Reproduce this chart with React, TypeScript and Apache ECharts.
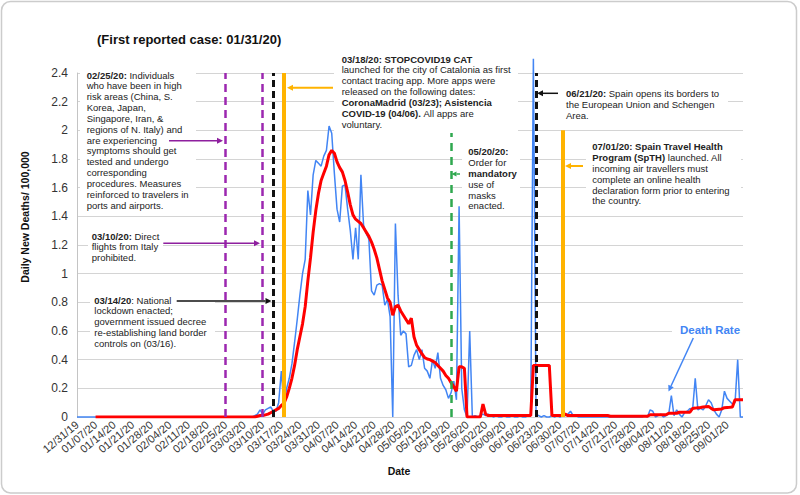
import React, { useEffect, useRef } from "react";
import * as echarts from "echarts";

// ---------- DATA ----------
const START_YEAR = 2019, START_MONTH = 11, START_DAY = 31, DAY_COUNT = 252;
const categories: string[] = [];
for (let i = 0; i < DAY_COUNT; i++) {
  const d = new Date(START_YEAR, START_MONTH, START_DAY + i);
  const mm = String(d.getMonth() + 1).padStart(2, "0");
  const dd = String(d.getDate()).padStart(2, "0");
  const yy = String(d.getFullYear()).slice(2);
  categories.push(`${mm}/${dd}/${yy}`);
}

// Daily new deaths per 100,000 (blue)
const dailyDeaths: number[] = [
  // 0-9
  0, 0, 0, 0, 0, 0, 0, 0, 0, 0,
  // 10-19
  0, 0, 0, 0, 0, 0, 0, 0, 0, 0,
  // 20-29
  0, 0, 0, 0, 0, 0, 0, 0, 0, 0,
  // 30-39
  0, 0, 0, 0, 0, 0, 0, 0, 0, 0,
  // 40-49
  0, 0, 0, 0, 0, 0, 0, 0, 0, 0,
  // 50-59
  0, 0, 0, 0, 0, 0, 0, 0, 0, 0,
  // 60-69
  0, 0, 0, 0, 0, 0, 0, 0.01, 0.02, 0.05,
  // 70-79
  0.02, 0.05, 0.06, 0.07, 0.04, 0.04, 0.1, 0.32, 0.08, 0.2,
  // 80-89
  0.27, 0.37, 0.52, 0.68, 0.85, 1.0, 1.1, 1.58, 1.41, 1.69,
  // 90-99
  1.79, 1.77, 1.75, 1.82, 1.86, 2.03, 1.98, 1.7, 1.45, 1.36,
  // 100-109
  1.61, 1.62, 1.45, 1.3, 1.1, 1.32, 1.1, 1.69, 1.34, 1.28,
  // 110-119
  1.24, 0.88, 0.85, 0.92, 0.93, 0.92, 0.78, 0.82, 0.7, 0.0,
  // 120-129
  1.35, 0.85, 0.57, 0.6, 0.58, 0.35, 0.36, 0.43, 0.47, 0.4,
  // 130-139
  0.47, 0.34, 0.32, 0.27, 0.4, 0.34, 0.45, 0.27, 0.22, 0.19,
  // 140-149
  0.13, 0.17, 0.25, 0.12, 1.47, 0.2, 0.05, 0.0, 0.6, 0.0,
  // 150-159
  0.01, 0, 0.01, 0.02, 0.01, 0.02, 0.01, 0, 0.01, 0,
  // 160-169
  0, 0.01, 0, 0, 0.01, 0, 0, 0.01, 0, 0,
  // 170-179
  0.01, 0.02, 2.5, 0.02, 0.01, 0, 0.01, 0, 0, 0.01,
  // 180-189
  0, 0.01, 0, 0.01, 0.01, 0.02, 0.04, 0.01, 0.01, 0,
  // 190-199
  0, 0, 0, 0, 0, 0, 0, 0, 0, 0,
  // 200-209
  0, 0, 0, 0, 0, 0, 0, 0, 0, 0,
  // 210-219
  0, 0, 0, 0, 0.01, 0, 0.05, 0.04, 0, 0.01,
  // 220-229
  0.02, 0, 0.01, 0.02, 0.15, 0.01, 0.05, 0.02, 0, 0.03,
  // 230-239
  0.04, 0.06, 0.05, 0.27, 0.05, 0.06, 0.05, 0.08, 0.12, 0.1,
  // 240-249
  0.05, 0.02, 0, 0.05, 0.18, 0.13, 0.11, 0.09, 0.1, 0.4,
  // 250-251
  0, 0,
];

// Rolling average (red)
const rollingAvg: (number | null)[] = [
  // 0-9
  null, null, null, null, null, null, null, 0, 0, 0,
  // 10-19
  0, 0, 0, 0, 0, 0, 0, 0, 0, 0,
  // 20-29
  0, 0, 0, 0, 0, 0, 0, 0, 0, 0,
  // 30-39
  0, 0, 0, 0, 0, 0, 0, 0, 0, 0,
  // 40-49
  0, 0, 0, 0, 0, 0, 0, 0, 0, 0,
  // 50-59
  0, 0, 0, 0, 0, 0, 0, 0, 0, 0,
  // 60-69
  0, 0, 0, 0, 0, 0, 0, 0, 0.005, 0.01,
  // 70-79
  0.01, 0.015, 0.02, 0.03, 0.04, 0.05, 0.06, 0.08, 0.095, 0.14,
  // 80-89
  0.2, 0.27, 0.36, 0.47, 0.56, 0.65, 0.77, 0.95, 1.11, 1.29,
  // 90-99
  1.44, 1.56, 1.65, 1.7, 1.75, 1.83, 1.86, 1.84, 1.78, 1.74,
  // 100-109
  1.71, 1.65, 1.57, 1.48, 1.41, 1.38, 1.365, 1.35, 1.32, 1.29,
  // 110-119
  1.26, 1.22, 1.17, 1.11, 1.03, 0.95, 0.89, 0.83, 0.8, 0.71,
  // 120-129
  0.77, 0.78, 0.74, 0.71, 0.68, 0.65, 0.69, 0.56, 0.5, 0.47,
  // 130-139
  0.44, 0.415, 0.405, 0.4, 0.39, 0.38, 0.36, 0.34, 0.32, 0.29,
  // 140-149
  0.27, 0.24, 0.21, 0.18, 0.35, 0.35, 0.34, 0, 0, 0,
  // 150-159
  0, 0, 0, 0.09, 0.02, 0.01, 0.01, 0.01, 0.01, 0.01,
  // 160-169
  0.01, 0.01, 0.01, 0.01, 0.01, 0.01, 0.01, 0.01, 0.01, 0.01,
  // 170-179
  0.01, 0.01, 0.36, 0.36, 0.36, 0.36, 0.36, 0.36, 0.36, 0.01,
  // 180-189
  0.01, 0.01, 0.01, 0.01, 0.02, 0.01, 0.01, 0.01, 0.01, 0.01,
  // 190-199
  0.01, 0.01, 0.01, 0.01, 0.01, 0.01, 0.01, 0.01, 0.01, 0.01,
  // 200-209
  0.01, 0.005, 0.005, 0.005, 0.005, 0.005, 0.005, 0.005, 0.005, 0.005,
  // 210-219
  0.005, 0.005, 0.005, 0.005, 0.005, 0.005, 0.016, 0.016, 0.016, 0.016,
  // 220-229
  0.016, 0.016, 0.016, 0.026, 0.026, 0.026, 0.026, 0.033, 0.033, 0.033,
  // 230-239
  0.033, 0.033, 0.06, 0.062, 0.065, 0.067, 0.07, 0.072, 0.074, 0.06,
  // 240-249
  0.05, 0.052, 0.054, 0.056, 0.065, 0.067, 0.068, 0.07, 0.12, 0.12,
  // 250-251
  0.12, 0.12,
];

// Event lines: date, top value of the line
const purpleEvents: string[] = ["02/25/20", "03/10/20"];
const blackEvents: string[] = ["03/14/20", "06/21/20"];
const orangeEvents: [string, number][] = [["03/18/20", 2.4], ["07/01/20", 2.0]];
const greenEvents: [string, number][] = [["05/20/20", 2.0]];

const Y_MIN = 0, Y_MAX = 2.4, Y_STEP = 0.2;

// ---------- STYLE ----------
const FONT = "Liberation Sans, Arial, Helvetica, sans-serif";
const TXT = "#222";
const PURPLE = "#9c27b0";
const ORANGE = "#ffb300";
const GREEN = "#2fa84f";
const BLUE = "#4285f4";
const RED = "#ff0000";

const LH = 10.85;
const rich = {
  n: { fontSize: 9.5, fontFamily: FONT, fill: TXT, lineHeight: LH },
  b: { fontSize: 9.5, fontFamily: FONT, fill: TXT, lineHeight: LH, fontWeight: "bold" },
};

function arrow(x1: number, y1: number, x2: number, y2: number, color: string, w = 1.5, head = 6) {
  const ang = Math.atan2(y2 - y1, x2 - x1);
  const bx = x2 - head * Math.cos(ang);
  const by = y2 - head * Math.sin(ang);
  const px = -Math.sin(ang) * head * 0.5;
  const py = Math.cos(ang) * head * 0.5;
  return [
    { type: "line", z: 30, silent: true, shape: { x1, y1, x2: bx, y2: by }, style: { stroke: color, lineWidth: w } },
    { type: "polygon", z: 30, silent: true, shape: { points: [[x2, y2], [bx + px, by + py], [bx - px, by - py]] }, style: { fill: color } },
  ];
}
function box(x: number, y: number, w: number, h: number) {
  return { type: "rect", z: 20, silent: true, shape: { x, y, width: w, height: h }, style: { fill: "#ffffff" } };
}
function note(x: number, yTop: number, text: string) {
  return {
    type: "text", z: 25, silent: true, x, y: yTop,
    style: { text, rich, fontSize: 9.5, fontFamily: FONT, fill: TXT, lineHeight: LH, align: "left", verticalAlign: "top" },
  };
}

export default function App() {
  const ref = useRef<HTMLDivElement>(null);
  useEffect(() => {
    if (!ref.current) return;
    const chart = echarts.init(ref.current, undefined, { renderer: "svg" });

    const markData: any[] = [];
    purpleEvents.forEach((d) =>
      markData.push({ xAxis: d, lineStyle: { color: PURPLE, width: 2.5, type: [8, 5] } })
    );
    blackEvents.forEach((d) =>
      markData.push({ xAxis: d, lineStyle: { color: "#111111", width: 3, type: [7, 4] } })
    );
    orangeEvents.forEach(([d, top]) =>
      markData.push([
        { coord: [d, 0], lineStyle: { color: ORANGE, width: 4, type: "solid" } },
        { coord: [d, top] },
      ])
    );
    greenEvents.forEach(([d, top]) =>
      markData.push([
        { coord: [d, 0], lineStyle: { color: GREEN, width: 2.5, type: [8, 6] } },
        { coord: [d, top] },
      ])
    );

    const graphic: any[] = [
      // outer frame
      { type: "rect", z: 1, silent: true, shape: { x: 1.5, y: 1.5, width: 795, height: 491.5, r: 9 }, style: { fill: "none", stroke: "#cccccc", lineWidth: 1.5 } },
      // title
      { type: "text", z: 25, x: 97, y: 39, style: { text: "(First reported case: 01/31/20)", fontSize: 13, fontWeight: "bold", fontFamily: FONT, fill: "#111", verticalAlign: "middle" } },
      // y axis name
      { type: "text", z: 25, x: 25, y: 217, rotation: Math.PI / 2, style: { text: "Daily New Deaths/ 100,000", fontSize: 10.5, fontWeight: "bold", fontFamily: FONT, fill: "#111", align: "center", verticalAlign: "middle" } },
      // x axis name
      { type: "text", z: 25, x: 399, y: 471, style: { text: "Date", fontSize: 10.5, fontWeight: "bold", fontFamily: FONT, fill: "#111", align: "center", verticalAlign: "middle" } },

      // 02/25/20
      box(80, 66, 116, 144),
      note(86.7, 69.6,
        "{b|02/25/20: }{n|Individuals}\n{n|who have been in high}\n{n|risk areas (China, S.}\n{n|Korea, Japan,}\n{n|Singapore, Iran, &}\n{n|regions of N. Italy) and}\n{n|are experiencing}\n{n|symptoms should get}\n{n|tested and undergo}\n{n|corresponding}\n{n|procedures. Measures}\n{n|reinforced to travelers in}\n{n|ports and airports.}"),
      ...arrow(169, 140.7, 223, 140.7, "#8e1f9e"),

      // 03/10/20
      box(88, 229, 75, 35),
      note(91.7, 230.6, "{b|03/10/20: }{n|Direct}\n{n|flights from Italy}\n{n|prohibited.}"),
      ...arrow(163.3, 243.3, 260, 243.3, "#8e1f9e"),

      // 03/14/20
      box(90, 293, 125, 57),
      note(94.3, 294.6, "{b|03/14/20}{n|: National}\n{n|lockdown enacted;}\n{n|government issued decree}\n{n|re-establishing land border}\n{n|controls on (03/16).}"),
      ...arrow(176.7, 301, 271.5, 301, "#111111"),

      // 03/18/20
      box(334, 50, 184, 83),
      note(341.7, 53.6,
        "{b|03/18/20: STOPCOVID19 CAT}\n{n|launched for the city of Catalonia as first}\n{n|contact tracing app. More apps were}\n{n|released on the following dates:}\n{b|CoronaMadrid (03/23); Asistencia}\n{b|COVID-19 (04/06). }{n|All apps are}\n{n|voluntary.}"),
      ...arrow(333, 87.7, 287, 87.7, ORANGE, 2),

      // 05/20/20
      box(462, 145, 58, 67),
      note(468.3, 146.3, "{b|05/20/20:}\n{n|Order for}\n{b|mandatory}\n{n|use of}\n{n|masks}\n{n|enacted.}"),
      ...arrow(460, 174, 451.5, 174, GREEN, 1.5, 5),

      // 06/21/20
      box(540, 85, 188, 38),
      note(566, 87.9, "{b|06/21/20: }{n|Spain opens its borders to}\n{n|the European Union and Schengen}\n{n|Area.}"),
      ...arrow(558, 93.3, 537, 93.3, "#111111"),

      // 07/01/20
      box(586, 138, 155, 70),
      note(592.3, 141.3,
        "{b|07/01/20: Spain Travel Health}\n{b|Program (SpTH) }{n|launched. All}\n{n|incoming air travellers must}\n{n|complete an online health}\n{n|declaration form prior to entering}\n{n|the country.}"),
      ...arrow(583, 166, 565, 166, ORANGE, 2),

      // Death Rate
      box(672, 322, 71, 16),
      { type: "text", z: 25, x: 680, y: 330, style: { text: "Death Rate", fontSize: 11.5, fontWeight: "bold", fontFamily: FONT, fill: BLUE, verticalAlign: "middle" } },
      ...arrow(693.3, 338, 668.5, 391.5, BLUE, 1.5),
    ];

    chart.setOption({
      animation: false,
      grid: { left: 77, right: 57, top: 73, bottom: 78 },
      xAxis: {
        type: "category",
        data: categories,
        boundaryGap: false,
        axisLine: { show: false },
        axisTick: { show: false },
        splitLine: { show: false },
        axisLabel: { interval: 6, rotate: 40, fontSize: 11, color: "#333", fontFamily: FONT, margin: 6, hideOverlap: false },
      },
      yAxis: {
        type: "value",
        min: Y_MIN,
        max: Y_MAX,
        interval: Y_STEP,
        axisLine: { show: true, lineStyle: { color: "#c4c4c4", width: 1 } },
        axisTick: { show: false },
        axisLabel: { fontSize: 12, color: "#333", fontFamily: FONT, margin: 9 },
        splitLine: { lineStyle: { color: "#d4d4d4", width: 1 } },
      },
      series: [
        {
          name: "Daily",
          type: "line",
          data: dailyDeaths,
          symbol: "none",
          clip: false,
          z: 3,
          lineStyle: { color: BLUE, width: 1.5 },
          itemStyle: { color: BLUE },
        },
        {
          name: "Average",
          type: "line",
          data: rollingAvg,
          symbol: "none",
          z: 4,
          lineStyle: { color: RED, width: 3 },
          itemStyle: { color: RED },
        },
        {
          name: "events",
          type: "line",
          data: [],
          z: 5,
          markLine: {
            silent: true,
            symbol: ["none", "none"],
            label: { show: false },
            emphasis: { disabled: true },
            data: markData,
          },
        },
      ],
      graphic,
    });
    return () => chart.dispose();
  }, []);
  return <div ref={ref} style={{ position: "absolute", left: 0, top: 0, width: 800, height: 495, background: "#fff" }} />;
}
